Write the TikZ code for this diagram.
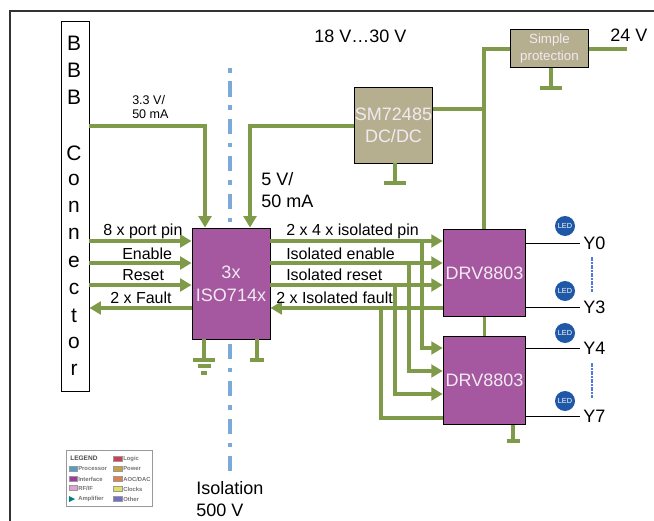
\documentclass[tikz,border=0pt]{standalone}
\usepackage{fontspec}
\setmainfont{Liberation Sans}
\usepackage{tikz}
\usetikzlibrary{arrows.meta,calc}
\definecolor{busgreen}{HTML}{7F9A48}
\definecolor{chippurple}{HTML}{A5589F}
\definecolor{supplytan}{HTML}{B5AF8F}
\definecolor{chiptext}{HTML}{F2EAF2}
\definecolor{ledblue}{HTML}{2058A8}
\definecolor{isoblue}{HTML}{7AA9DA}
\definecolor{legproc}{HTML}{4FA0C8}
\definecolor{legintf}{HTML}{A03CA0}
\definecolor{legrf}{HTML}{E0A0D8}
\definecolor{leglogic}{HTML}{D04050}
\definecolor{legpower}{HTML}{C8A040}
\definecolor{legaoc}{HTML}{E08050}
\definecolor{legclk}{HTML}{E0E060}
\definecolor{legother}{HTML}{7070C8}

\begin{document}
\begin{tikzpicture}
	[x=0.75pt,y=-0.75pt,
	 bus/.style={line width=2.6pt,color=busgreen,>={Triangle[length=8.5pt,width=9.5pt]}},
	 stub/.style={line width=2.6pt,color=busgreen},
	 pinline/.style={line width=0.6pt},
	 chip/.style={draw=black,line width=0.7pt,fill=chippurple,text=chiptext,font=\fontsize{13.5}{16}\selectfont,align=center,inner sep=0pt},
	 supply/.style={draw=black,line width=0.7pt,fill=supplytan,text=chiptext,align=center,inner sep=0pt},
	 lbl/.style={font=\fontsize{12}{14}\selectfont,inner sep=0pt},
	 big/.style={font=\fontsize{13.5}{16}\selectfont,inner sep=0pt,align=left},
	 ylbl/.style={font=\fontsize{13.5}{16}\selectfont,inner xsep=2.25pt,inner ysep=0pt,anchor=west},
	 led/.style={circle,fill=ledblue,text=white,minimum size=15pt,inner sep=0pt,font=\fontsize{5.5}{6}\selectfont},
	 swatch/.style={draw=black!40,line width=0.3pt,minimum width=6.4pt,minimum height=4pt,inner sep=0pt},
	 leg/.style={font=\fontsize{4.4}{5}\bfseries\selectfont,text=black!55,anchor=west,inner sep=0pt}]
	\useasboundingbox (0,0) rectangle (654,521);
	% outer frame, open on the right and at the bottom
	\draw[line width=1.8pt,color=black!80] (10,521) -- (10,11) -- (654,11);

	% isolation barrier goes behind the ISO714x
	\coordinate (IsoTop) at (230,68);
	\coordinate (IsoBot) at (230,472);
	\draw[isoblue,line width=3.4pt,dash pattern=on 3.4pt off 6.7pt on 11.3pt off 6.7pt] (IsoTop) -- (IsoBot);

	% blocks
	\node[draw=black,line width=0.7pt,fill=white,minimum width=21pt,minimum height=277.5pt,inner sep=0pt] (BBB) at (75,206) {};
	\node[chip,minimum width=58.5pt,minimum height=83.2pt] (ISO) at (231,283.5) {3x\\[1pt]ISO714x};
	\node[chip,minimum width=62pt,minimum height=65.5pt] (DRVa) at (484.5,273) {DRV8803};
	\node[chip,minimum width=62pt,minimum height=65.5pt] (DRVb) at (484.5,380.5) {DRV8803};
	\node[supply,minimum width=59pt,minimum height=57pt,font=\fontsize{13.5}{16.5}\selectfont] (SM) at (393.5,125) {SM72485\\DC/DC};
	\node[supply,minimum width=59pt,minimum height=29pt,font=\fontsize{10}{12.5}\selectfont] (PROT) at (549.5,48.5) {Simple\\protection};

	% connector letters
	\foreach \ch/\ypos in {B/43,B/70,B/97,C/153,o/180,n/207,n/234,e/262,c/289,t/316,o/343,r/370}
		\node[font=\fontsize{15.7}{18}\selectfont,inner sep=0pt] at (74,\ypos) {\ch};

	% rows of the signal buses
	\coordinate (RowPin) at (0,241);
	\coordinate (RowEn) at (0,263);
	\coordinate (RowRst) at (0,285);
	\coordinate (RowFlt) at (0,308);

	% BBB side
	\draw[bus,->] (BBB.east |- RowPin) -- (ISO.west |- RowPin);
	\draw[bus,->] (BBB.east |- RowEn) -- (ISO.west |- RowEn);
	\draw[bus,->] (BBB.east |- RowRst) -- (ISO.west |- RowRst);
	\draw[bus,->] (ISO.west |- RowFlt) -- (BBB.east |- RowFlt);

	% isolated side
	\draw[bus,->] (ISO.east |- RowPin) -- (DRVa.west |- RowPin);
	\draw[bus,->] (ISO.east |- RowEn) -- (DRVa.west |- RowEn);
	\draw[bus,->] (ISO.east |- RowRst) -- (DRVa.west |- RowRst);
	\draw[bus,->] (DRVa.west |- RowFlt) -- (ISO.east |- RowFlt);

	% branches down to the second driver
	\coordinate (TapPin) at (422,348);
	\coordinate (TapEn) at (409,371);
	\coordinate (TapRst) at (395,394);
	\coordinate (TapFlt) at (381,418);
	\draw[bus,->] (TapPin |- RowPin) -- (TapPin) -- (DRVb.west |- TapPin);
	\draw[bus,->] (TapEn |- RowEn) -- (TapEn) -- (DRVb.west |- TapEn);
	\draw[bus,->] (TapRst |- RowRst) -- (TapRst) -- (DRVb.west |- TapRst);
	\draw[bus] (TapFlt |- RowFlt) -- (TapFlt) -- (DRVb.west |- TapFlt);

	% supply
	\coordinate (Rail3) at (205,126);
	\coordinate (Rail5) at (250,126);
	\coordinate (RailTop) at (484,49);
	\coordinate (RailSM) at (484,109);
	\coordinate (In24) at (627,49);
	\draw[bus,->] (BBB.east |- Rail3) -- (Rail3) -- (ISO.north -| Rail3);
	\draw[bus,->] (SM.west |- Rail5) -- (Rail5) -- (ISO.north -| Rail5);
	\draw[stub] (SM.east |- RailSM) -- (RailSM);
	\draw[stub] (PROT.west |- RailTop) -- (RailTop) -- (DRVa.north -| RailTop);
	\draw[stub] (PROT.east |- In24) -- (In24);
	\draw[stub] (DRVa.south) -- (DRVb.north);

	% grounds
	\coordinate (GndISOa) at (204,360);
	\coordinate (GndISOb) at (257,360);
	\coordinate (GndSM) at (395,183);
	\coordinate (GndPROT) at (551,88);
	\coordinate (GndDRV) at (513,441);
	\draw[stub] (ISO.south -| GndISOa) -- (GndISOa) +(-11,0) -- +(11,0);
	\draw[stub] ($(GndISOa)+(-6.5,6)$) -- ($(GndISOa)+(6.5,6)$);
	\draw[stub] ($(GndISOa)+(-3,13)$) -- ($(GndISOa)+(3,13)$);
	\draw[stub] (ISO.south -| GndISOb) -- (GndISOb) +(-7,0) -- +(7,0);
	\draw[stub] (SM.south -| GndSM) -- (GndSM) +(-11,0) -- +(11,0);
	\draw[stub] (PROT.south -| GndPROT) -- (GndPROT) +(-11,0) -- +(11,0);
	\draw[stub] (DRVb.south -| GndDRV) -- (GndDRV) +(-6.5,0) -- +(6.5,0);

	% outputs
	\node[ylbl] (Y0) at (580,243) {Y0};
	\node[ylbl] (Y3) at (580,307) {Y3};
	\node[ylbl] (Y4) at (580,348) {Y4};
	\node[ylbl] (Y7) at (580,416) {Y7};
	\draw[pinline] (DRVa.east |- Y0) -- (Y0);
	\draw[pinline] (DRVa.east |- Y3) -- (Y3);
	\draw[pinline] (DRVb.east |- Y4) -- (Y4);
	\draw[pinline] (DRVb.east |- Y7) -- (Y7);
	\node[led] (LEDa) at (565,226) {LED};
	\node[led] (LEDb) at (565,291) {LED};
	\node[led] (LEDc) at (565,333) {LED};
	\node[led] (LEDd) at (565,401) {LED};
	\draw[isoblue!70!blue,line width=0.8pt,dash pattern=on 3pt off 1pt on 1pt off 1pt] (592,257) -- (592,292);
	\draw[isoblue!70!blue,line width=0.8pt,dash pattern=on 3pt off 1pt on 1pt off 1pt] (592,363) -- (592,398);

	% labels
	\node[big,anchor=west] (Lrange) at (314,36) {18 V…30 V};
	\node[big,anchor=west] (L24) at (610,35) {24 V};
	\node[anchor=west,align=left,inner sep=0pt,font=\fontsize{9.4}{11.2}\selectfont] (L33) at (132,107) {3.3 V/\\50 mA};
	\node[big,anchor=west] (L5) at (261,190) {5 V/\\50 mA};
	\node[big,anchor=west] (Liso) at (196,499) {Isolation\\500 V};
	\node[lbl,anchor=west] (Lpin) at (103,231) {8 x port pin};
	\node[lbl,anchor=west] (Len) at (122,254) {Enable};
	\node[lbl,anchor=west] (Lrst) at (122,275) {Reset};
	\node[lbl,anchor=west] (Lflt) at (110,298) {2 x Fault};
	\node[lbl,anchor=west] (Lipin) at (286,231) {2 x 4 x isolated pin};
	\node[lbl,anchor=west] (Lien) at (286,254) {Isolated enable};
	\node[lbl,anchor=west] (Lirst) at (286,275) {Isolated reset};
	\node[lbl,anchor=west] (Liflt) at (276,298) {2 x Isolated fault};

	% legend
	\node[draw=black!40,line width=0.6pt,fill=white,minimum width=65pt,minimum height=42pt,inner sep=0pt] (LEG) at (109.5,478) {};
	\node[leg,font=\fontsize{4.9}{6}\bfseries\selectfont,text=black!70] (LEGt) at (70,458) {LEGEND};
	\foreach \txt/\ypos in {Processor/469,Interface/479,RF\slash IF/488,Amplifier/499}
		\node[leg] at (78,\ypos) {\txt};
	\node[swatch,fill=legproc] at (73,469) {};
	\node[swatch,fill=legintf] at (73,479) {};
	\node[swatch,fill=legrf] at (73,488) {};
	\fill[teal] (69,496) -- (75,499) -- (69,502) -- cycle;
	\foreach \txt/\ypos in {Logic/459,Power/469,AOC\slash DAC/479,Clocks/489,Other/499}
		\node[leg] at (123,\ypos) {\txt};
	\node[swatch,fill=leglogic] at (117.5,459) {};
	\node[swatch,fill=legpower] at (117.5,469) {};
	\node[swatch,fill=legaoc] at (117.5,479) {};
	\node[swatch,fill=legclk] at (117.5,489) {};
	\node[swatch,fill=legother] at (117.5,499) {};
\end{tikzpicture}
\end{document}
